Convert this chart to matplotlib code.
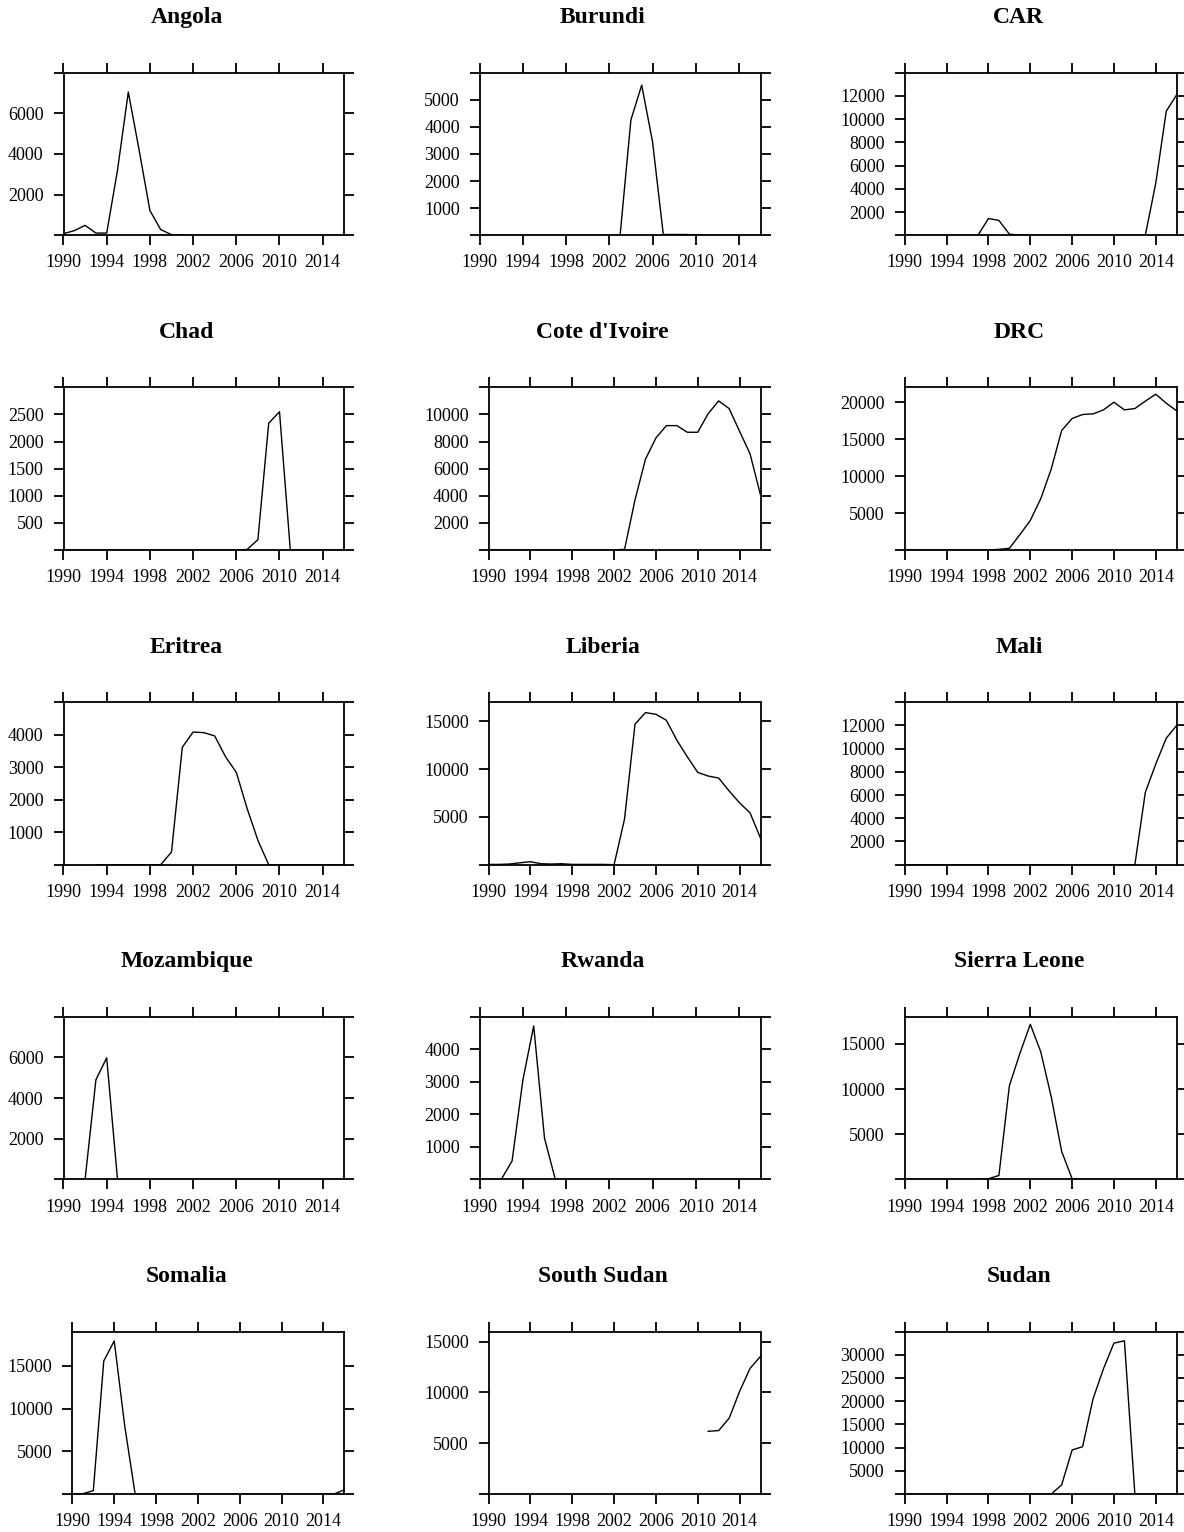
import numpy as np
import matplotlib.pyplot as plt

plt.rcParams['font.family'] = ['Liberation Serif', 'DejaVu Serif']

years = list(range(1990, 2017))

countries = ["Angola", "Burundi", "CAR", "Chad", "Cote d'Ivoire", "DRC",
             "Eritrea", "Liberia", "Mali", "Mozambique", "Rwanda",
             "Sierra Leone", "Somalia", "South Sudan", "Sudan"]

# yearly values 1990-2016, None = no data
angola = [80, 230, 490, 110, 110, 3200, 7050, 4200, 1220, 280, 30] + [0] * 16
burundi = [0] * 14 + [4260, 5540, 3460, 30, 30, 30, 20] + [0] * 6
car = [0] * 8 + [1450, 1280, 100, 20] + [0] * 12 + [4500, 10680, 12100]
chad = [0] * 17 + [10, 190, 2340, 2550] + [0] * 6
cote_divoire = [0] * 13 + [50, 3700, 6700, 8270, 9180, 9180, 8690, 8690,
                           10070, 11000, 10440, 8760, 7100, 4070]
drc = [0] * 9 + [90, 225, 2070, 4000, 6940, 10950, 16170, 17790, 18330,
                 18420, 18960, 20000, 18960, 19140, 20140, 21080, 19860, 18830]
eritrea = [None] * 3 + [0] * 7 + [390, 3610, 4080, 4060, 3960, 3320, 2840,
                                  1730, 750] + [0] * 8
liberia = [30, 30, 70, 200, 310, 100, 70, 100, 30, 30, 30, 30, 0, 4790,
           14690, 15900, 15730, 15100, 13020, 11280, 9650, 9270, 9060, 7710,
           6460, 5420, 2780]
mali = [0] * 23 + [6230, 8670, 10890, 11990]
mozambique = [0] * 3 + [4900, 5980] + [0] * 22
rwanda = [0] * 3 + [570, 3060, 4720, 1270] + [0] * 20
sierra_leone = [0] * 8 + [70, 440, 10370, 13930, 17170, 14120, 9150, 3090,
                          70] + [0] * 10
somalia = [0, 50, 400, 15560, 17900, 8000] + [0] * 20 + [500]
south_sudan = [None] * 21 + [6180, 6250, 7460, 10100, 12370, 13550]
sudan = [0] * 15 + [2000, 9500, 10200, 20500, 27000, 32500, 33000] + [0] * 5

series = [angola, burundi, car, chad, cote_divoire, drc, eritrea, liberia,
          mali, mozambique, rwanda, sierra_leone, somalia, south_sudan, sudan]

y_max = [8000, 6000, 14000, 3000, 12000, 22000, 5000, 17000, 14000, 8000,
         5000, 18000, 19000, 16000, 35000]
y_step = [2000, 1000, 2000, 500, 2000, 5000, 1000, 5000, 2000, 2000, 1000,
          5000, 5000, 5000, 5000]
x_ticks = [1990, 1994, 1998, 2002, 2006, 2010, 2014]

W, H = 1184, 1532
fig = plt.figure(figsize=(W / 100, H / 100), dpi=100)

for i, name in enumerate(countries):
    r, c = divmod(i, 3)
    col_x = c * 416.2
    top = 72.7 + r * 314.7
    height = 162.6
    yt = list(range(0, y_max[i] + 1, y_step[i]))
    labels = [str(v) if 0 < v < y_max[i] else "" for v in yt]
    wide = max(v for v in yt if v < y_max[i]) >= 10000
    left = col_x + (72.4 if wide else 63.5)
    right = col_x + 344.3

    ax = fig.add_axes([left / W, 1 - (top + height) / H,
                       (right - left) / W, height / H])
    vals = np.array([np.nan if v is None else v for v in series[i]], dtype=float)
    ax.plot(years, vals, color='black', lw=1.0)
    ax.set_xlim(1990, 2016)
    ax.set_ylim(0, y_max[i])
    ax.set_xticks(x_ticks)
    ax.set_yticks(yt)
    ax.set_yticklabels(labels)
    for s in ax.spines.values():
        s.set_linewidth(1.3)
    ax.tick_params(direction='out', length=7.3, width=1.3, top=True,
                   right=True, labelsize=13)
    ax.tick_params(axis='x', pad=6.5)
    ax.tick_params(axis='y', pad=7)

    fig.text((col_x + 186.5) / W, 1 - (23.3 + r * 314.7) / H, name,
             ha='center', va='baseline', fontsize=17, fontweight='bold')

fig.savefig("out.png", dpi=100)
